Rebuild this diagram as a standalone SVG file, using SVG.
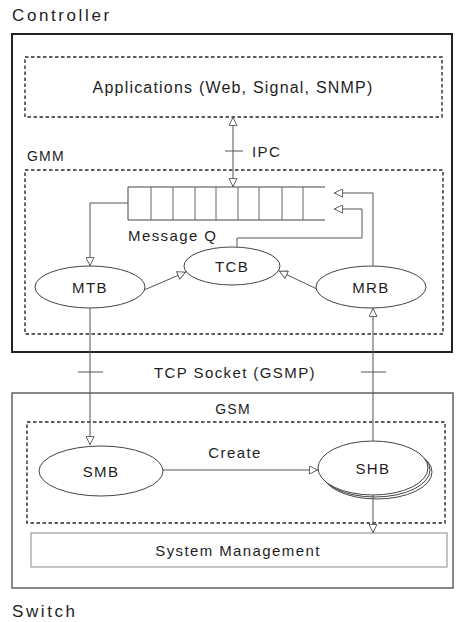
<svg xmlns="http://www.w3.org/2000/svg" width="458" height="622" viewBox="0 0 458 622">
  <style>
    text { font-family: "Liberation Sans", Arial, sans-serif; fill: #1e1e1e; }
    .title { font-size: 17px; letter-spacing: 2.6px; }
    .lbl { font-size: 15px; letter-spacing: 1.4px; }
    .small { font-size: 14px; letter-spacing: 1.2px; }
    .mid { text-anchor: middle; }
    .frame { fill: none; stroke: #222; stroke-width: 2; }
    .frame-lt { fill: none; stroke: #555; stroke-width: 1.4; }
    .dash { fill: none; stroke: #2a2a2a; stroke-width: 1.4; stroke-dasharray: 3.5 2.5; }
    .box-lt { fill: #fff; stroke: #888; stroke-width: 1; }
    .node { fill: #fff; stroke: #444; stroke-width: 1; }
    .conn { fill: none; stroke: #555; stroke-width: 1; }
    .q { fill: none; stroke: #444; stroke-width: 1; }
    .qd { stroke: #666; stroke-width: 1; }
  </style>
  <defs>
    <marker id="open" viewBox="0 0 10 10" refX="10" refY="5" markerWidth="10" markerHeight="9" markerUnits="userSpaceOnUse" orient="auto-start-reverse">
      <path d="M0.5,0.5 L9.5,5 L0.5,9.5 z" fill="#fff" stroke="#555" stroke-width="1"/>
    </marker>
  </defs>

  <!-- Outer frames -->
  <g id="controller">
    <text class="title" x="12" y="21">Controller</text>
    <rect class="frame" x="12" y="34" width="440" height="318"/>
  </g>
  <g id="switch">
    <rect class="frame-lt" x="12" y="393" width="441" height="195"/>
    <text class="title" x="12" y="617">Switch</text>
  </g>

  <!-- Controller contents -->
  <g id="applications">
    <rect class="dash" x="25" y="57" width="417" height="60"/>
    <text class="lbl mid" x="233" y="93" style="font-size:16px;letter-spacing:1.2px">Applications (Web, Signal, SNMP)</text>
  </g>
  <g id="gmm">
    <rect class="dash" x="25" y="170" width="418" height="164"/>
    <text class="small" x="27" y="161">GMM</text>
  </g>
  <g id="message-q">
    <path class="q" d="M325,187 H128 V220 H325"/>
    <path class="qd" d="M151,187V220 M173,187V220 M195,187V220 M216,187V220 M238,187V220 M259,187V220 M282,187V220 M303,187V220"/>
    <text class="lbl" x="128" y="241">Message Q</text>
  </g>
  <g id="mtb">
    <ellipse class="node" cx="90" cy="287" rx="55" ry="21"/>
    <text class="lbl mid" x="90" y="293">MTB</text>
  </g>
  <g id="tcb">
    <ellipse class="node" cx="232" cy="266" rx="48" ry="19"/>
    <text class="lbl mid" x="232" y="272">TCB</text>
  </g>
  <g id="mrb">
    <ellipse class="node" cx="371" cy="287" rx="55" ry="21"/>
    <text class="lbl mid" x="371" y="293">MRB</text>
  </g>

  <!-- Switch contents -->
  <g id="gsm">
    <text class="small mid" x="233" y="414">GSM</text>
    <rect class="dash" x="27" y="422" width="418" height="101"/>
  </g>
  <g id="smb">
    <ellipse class="node" cx="101" cy="471" rx="62" ry="25"/>
    <text class="lbl mid" x="101" y="477">SMB</text>
  </g>
  <g id="shb">
    <ellipse class="node" cx="377" cy="472" rx="55" ry="27"/>
    <ellipse class="node" cx="375" cy="470" rx="55" ry="27"/>
    <ellipse class="node" cx="373" cy="468" rx="55" ry="27"/>
    <text class="lbl mid" x="373" y="474">SHB</text>
  </g>
  <g id="system-management">
    <rect class="box-lt" x="31" y="533" width="416" height="34"/>
    <text class="lbl mid" x="238" y="556">System Management</text>
  </g>

  <!-- Connectors -->
  <g id="connectors">
    <line class="conn" x1="233" y1="117" x2="233" y2="187" marker-start="url(#open)" marker-end="url(#open)"/>
    <line class="conn" x1="225" y1="151" x2="243" y2="151"/>
    <text class="lbl" x="252" y="157">IPC</text>

    <polyline class="conn" points="128,203 90,203 90,266" marker-end="url(#open)"/>
    <line class="conn" x1="144" y1="290" x2="186" y2="272" marker-end="url(#open)"/>
    <line class="conn" x1="317" y1="289" x2="279" y2="271" marker-end="url(#open)"/>
    <polyline class="conn" points="237,247 237,238 362,238 362,209 334,209" marker-end="url(#open)"/>
    <polyline class="conn" points="373,266 373,193 334,193" marker-end="url(#open)"/>

    <line class="conn" x1="90" y1="308" x2="90" y2="445" marker-end="url(#open)"/>
    <line class="conn" x1="78" y1="372" x2="103" y2="372"/>
    <line class="conn" x1="373" y1="441" x2="373" y2="308" marker-end="url(#open)"/>
    <line class="conn" x1="361" y1="372" x2="386" y2="372"/>
    <text class="lbl mid" x="235" y="378">TCP Socket (GSMP)</text>

    <line class="conn" x1="163" y1="470" x2="318" y2="470" marker-end="url(#open)"/>
    <text class="lbl mid" x="235" y="458">Create</text>
    <line class="conn" x1="373" y1="495" x2="373" y2="533" marker-end="url(#open)"/>
  </g>
</svg>
